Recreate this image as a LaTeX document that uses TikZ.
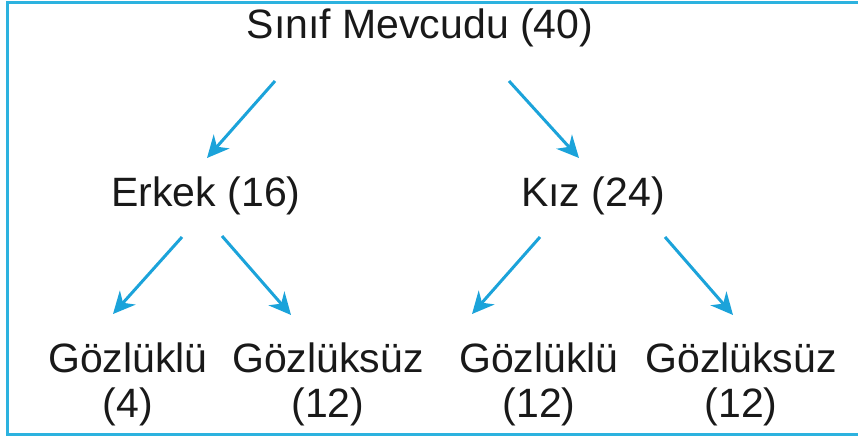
\documentclass[tikz,border=0pt]{standalone}
\usepackage{fontspec}
\setmainfont{Liberation Sans}
\usetikzlibrary{arrows.meta}
\definecolor{arrowblue}{HTML}{1BA3DA}
\definecolor{framecyan}{HTML}{2CB2DF}
\begin{document}
\begin{tikzpicture}[x=1pt,y=-1pt,
  lbl/.style={inner sep=0pt,anchor=base,align=center,text=black!90,
    font=\fontsize{41}{45}\selectfont},
  arr/.style={draw=arrowblue,line width=3pt,
    -{Stealth[length=22pt,width=21pt,inset=7pt]}}]
\useasboundingbox (0,0) rectangle (858,441);
\fill[white] (0,0) rectangle (858,441);
\draw[framecyan,line width=3pt] (870,3) -- (7,3) -- (7,434) -- (870,434);
% labels
\node[lbl] (top) at (420,39) {Sınıf Mevcudu (40)};
\node[lbl] (erkek) at (206,206) {Erkek (16)};
\node[lbl] (kiz) at (593,206) {Kız (24)};
\node[lbl] (g1) at (128,417) {Gözlüklü\\(4)};
\node[lbl] (g2) at (328,417) {Gözlüksüz\\(12)};
\node[lbl] (g3) at (539,417) {Gözlüklü\\(12)};
\node[lbl] (g4) at (741,417) {Gözlüksüz\\(12)};
% arrow endpoints
\coordinate (a1s) at (275,81);  \coordinate (a1e) at (207,158);
\coordinate (a2s) at (509,81);  \coordinate (a2e) at (579,158);
\coordinate (a3s) at (182,237); \coordinate (a3e) at (113,314);
\coordinate (a4s) at (222,236); \coordinate (a4e) at (291,315);
\coordinate (a5s) at (540,237); \coordinate (a5e) at (472,314);
\coordinate (a6s) at (665,237); \coordinate (a6e) at (733,315);
\draw[arr] (a1s) -- (a1e);
\draw[arr] (a2s) -- (a2e);
\draw[arr] (a3s) -- (a3e);
\draw[arr] (a4s) -- (a4e);
\draw[arr] (a5s) -- (a5e);
\draw[arr] (a6s) -- (a6e);
\end{tikzpicture}
\end{document}
